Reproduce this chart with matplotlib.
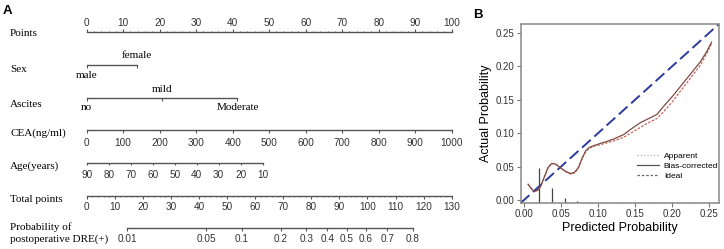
""" Nomogram (A) and calibration curve (B)
"""
import matplotlib
matplotlib.use('Agg')
import matplotlib.pyplot as plt
import numpy as np
from matplotlib.lines import Line2D

# nomogram data (points scale 0-100)
pts_major = np.arange(0, 101, 10)
pts_minor = np.arange(0, 101, 2)
sex_levels = ['male', 'female']
sex_pts = [0, 13.7]
asc_levels = ['no', 'mild', 'Moderate']
asc_pts = [0, 20.7, 41.3]
cea_ticks = np.arange(0, 1001, 100)
cea_pts_per_unit = 0.1
age_ticks = [90, 80, 70, 60, 50, 40, 30, 20, 10]
age_pts_per_year = 0.603
tot_major = np.arange(0, 131, 10)
tot_minor = np.arange(0, 131, 2)
prob_ticks = [0.01, 0.05, 0.1, 0.2, 0.3, 0.4, 0.5, 0.6, 0.7, 0.8]
prob_labels = ['0.01', '0.05', '0.1', '0.2', '0.3', '0.4', '0.5', '0.6', '0.7', '0.8']
tot_at_p50 = 92.6      # total points where probability = 0.5
tot_per_logit = 17.0

# calibration data
pred = [0.005, 0.009, 0.013, 0.018, 0.022, 0.027, 0.032, 0.037, 0.042, 0.047,
        0.053, 0.058, 0.063, 0.068, 0.073, 0.078, 0.083, 0.088, 0.095, 0.103,
        0.112, 0.122, 0.134, 0.145, 0.157, 0.168, 0.179, 0.188, 0.200, 0.211,
        0.225, 0.238, 0.246, 0.253]
bias_corr = [0.024, 0.018, 0.013, 0.015, 0.021, 0.035, 0.049, 0.055, 0.054, 0.050,
             0.045, 0.042, 0.040, 0.042, 0.049, 0.063, 0.074, 0.079, 0.082, 0.085,
             0.088, 0.092, 0.098, 0.107, 0.116, 0.122, 0.128, 0.140, 0.155, 0.170,
             0.189, 0.207, 0.221, 0.236]
apparent = [0.024, 0.018, 0.013, 0.015, 0.021, 0.035, 0.049, 0.055, 0.054, 0.050,
            0.045, 0.041, 0.039, 0.041, 0.048, 0.062, 0.073, 0.078, 0.081, 0.083,
            0.086, 0.089, 0.094, 0.101, 0.109, 0.116, 0.122, 0.132, 0.147, 0.163,
            0.183, 0.202, 0.218, 0.234]
spike_x = [0.0203, 0.0374, 0.0545, 0.071, 0.09, 0.105, 0.125, 0.15, 0.175, 0.20, 0.225, 0.25]
spike_h = [0.0525, 0.022, 0.007, 0.0034, 0.0015, 0.0015, 0.0012, 0.0015, 0.0012, 0.0015, 0.0012, 0.0015]

W, H = 724, 249
fig = plt.figure(figsize=(W / 100, H / 100), dpi=100)

serif = 'Liberation Serif'
narrow = ['Liberation Sans Narrow', 'Liberation Sans', 'DejaVu Sans']
lc = '#555555'
fs_lab = 8
fs_tick = 7.2

# ---------- panel A ----------
px_per_pt = 3.65
x0 = 86.7
axA = fig.add_axes([0, 0, 470 / W, 1])
axA.set_xlim(-x0 / px_per_pt, (470 - x0) / px_per_pt)
axA.set_ylim(H, 0)
axA.axis('off')
lab_x = -21.0


def scale_row(y, xs, labels, major_len=2.6, minor=None, up=False, lab_off=12):
    s = -1 if up else 1
    axA.plot([min(xs), max(xs)], [y, y], color=lc, lw=1)
    axA.vlines(xs, y, y + s * major_len, color=lc, lw=0.8)
    if minor is not None:
        axA.vlines(minor, y, y + s * major_len * 0.5, color=lc, lw=0.6)
    for xv, t in zip(xs, labels):
        axA.text(xv, y + s * lab_off, t, ha='center', va='center',
                 family=narrow, fontsize=fs_tick, color='#333333')


def row_label(y, txt):
    axA.text(lab_x, y, txt, ha='left', va='center', family=serif, fontsize=fs_lab)


# Points
row_label(33, 'Points')
scale_row(32, pts_major, [str(v) for v in pts_major], minor=pts_minor, up=True, lab_off=9.5)

# Sex
row_label(69, 'Sex')
axA.plot([sex_pts[0], sex_pts[1]], [65, 65], color=lc, lw=1)
axA.vlines(sex_pts, 65, 67.6, color=lc, lw=0.8)
axA.text(sex_pts[0], 75, sex_levels[0], ha='center', va='center', family=serif, fontsize=fs_lab)
axA.text(sex_pts[1], 55, sex_levels[1], ha='center', va='center', family=serif, fontsize=fs_lab)

# Ascites
row_label(104, 'Ascites')
axA.plot([asc_pts[0], asc_pts[-1]], [98.3, 98.3], color=lc, lw=1)
axA.vlines(asc_pts, 98.3, 100.9, color=lc, lw=0.8)
axA.text(asc_pts[0], 107.7, asc_levels[0], ha='center', va='center', family=serif, fontsize=fs_lab)
axA.text(asc_pts[1], 89, asc_levels[1], ha='center', va='center', family=serif, fontsize=fs_lab)
axA.text(asc_pts[2], 107.7, asc_levels[2], ha='center', va='center', family=serif, fontsize=fs_lab)

# CEA
row_label(133, 'CEA(ng/ml)')
scale_row(130, cea_ticks * cea_pts_per_unit, [str(v) for v in cea_ticks], lab_off=12.7)

# Age
row_label(166, 'Age(years)')
age_x = [(90 - a) * age_pts_per_year for a in age_ticks]
scale_row(162.7, age_x, [str(a) for a in age_ticks], lab_off=12.3)

# Total points
row_label(199.3, 'Total points')
scale_row(196, tot_major * 100 / 130, [str(v) for v in tot_major],
          minor=tot_minor * 100 / 130, lab_off=11.3)

# Probability
axA.text(lab_x, 226.7, 'Probability of', ha='left', va='center', family=serif, fontsize=fs_lab)
axA.text(lab_x, 238.7, 'postoperative DRE(+)', ha='left', va='center', family=serif, fontsize=fs_lab)
p = np.array(prob_ticks)
prob_tot = tot_at_p50 + tot_per_logit * np.log(p / (1 - p))
scale_row(228.3, prob_tot * 100 / 130, prob_labels, lab_off=10.7)

fig.text(3 / W, 1 - 14 / H, 'A', fontsize=9.5, fontweight='bold', family='Liberation Sans')

# ---------- panel B ----------
axB = fig.add_axes([520.7 / W, 1 - 203 / H, (719 - 520.7) / W, (203 - 24) / H])
lo, hi = -0.005, 0.263
ylo = -0.004
axB.set_xlim(lo, hi)
axB.set_ylim(ylo, hi)
axB.plot([lo, hi], [ylo, hi], color='#2b3a9c', lw=1.4, dashes=(6, 2.5))
axB.vlines(spike_x, ylo, ylo + np.array(spike_h), color='#444444', lw=0.9)
axB.plot(pred, apparent, color='#c8645a', lw=0.9, dashes=(2, 1.2))
axB.plot(pred, bias_corr, color='#7e4c42', lw=0.9)

ticks = [0, 0.05, 0.1, 0.15, 0.2, 0.25]
axB.set_xticks(ticks)
axB.set_yticks(ticks)
axB.set_xticklabels(['%.2f' % t for t in ticks])
axB.set_yticklabels(['%.2f' % t for t in ticks])
axB.tick_params(direction='out', length=3, width=0.8, color='#777777',
                labelsize=7, labelcolor='#333333', pad=1.5)
for lab in axB.get_xticklabels() + axB.get_yticklabels():
    lab.set_family('Liberation Sans')
for sp in axB.spines.values():
    sp.set_color('#888888')
    sp.set_linewidth(1.1)
axB.set_xlabel('Predicted Probability', fontsize=9, family='Liberation Sans', labelpad=2)
axB.set_ylabel('Actual Probability', fontsize=9, family='Liberation Sans', labelpad=3)

handles = [Line2D([], [], color='#b0b0b0', lw=0.9, ls=':'),
           Line2D([], [], color='#555555', lw=0.9),
           Line2D([], [], color='#666666', lw=0.9, dashes=(2, 1.5))]
axB.legend(handles, ['Apparent', 'Bias-corrected', 'Ideal'], loc='upper left',
           bbox_to_anchor=(0.566, 0.31), frameon=False,
           handlelength=2.6, handletextpad=0.6, labelspacing=0.3, borderpad=0,
           prop={'family': 'Liberation Sans', 'size': 6})

fig.text(473 / W, 1 - 18 / H, 'B', fontsize=9.5, fontweight='bold', family='Liberation Sans')

fig.savefig('out.png', dpi=100)
